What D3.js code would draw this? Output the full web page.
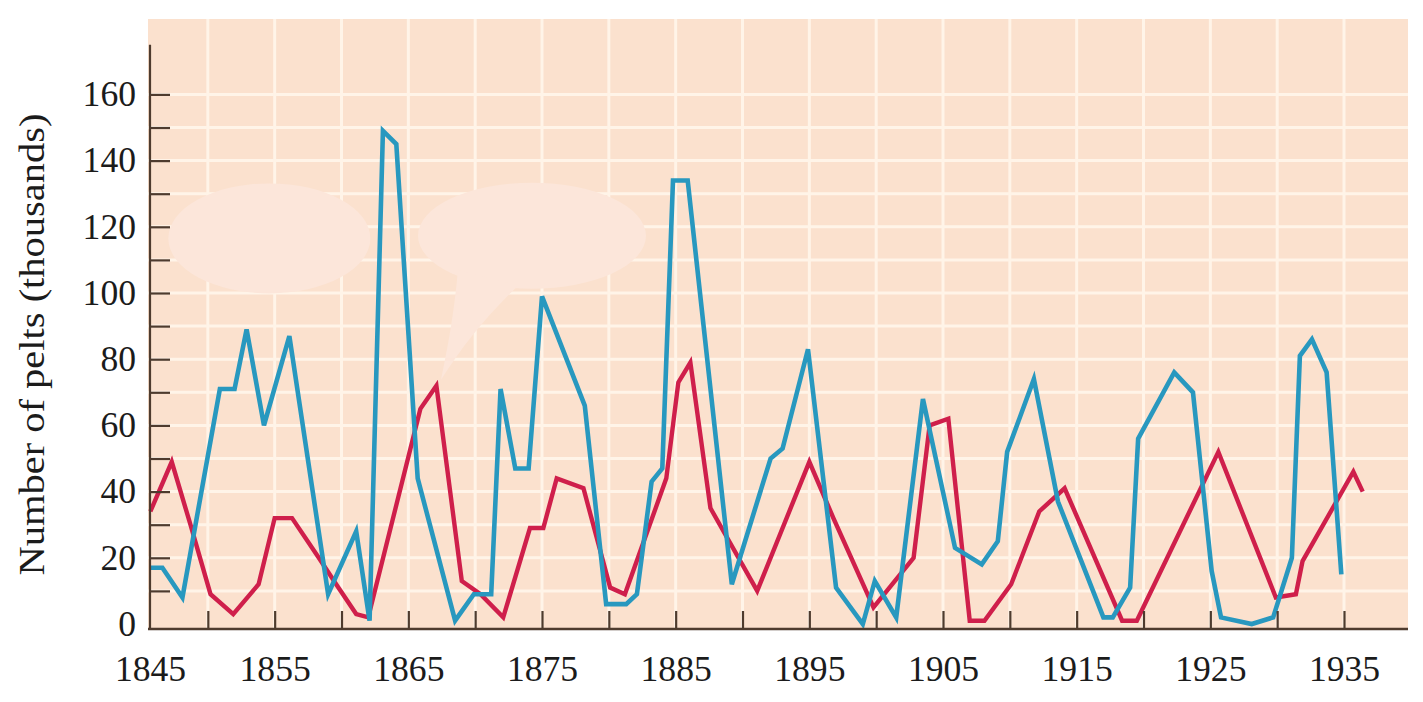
<!DOCTYPE html>
<html>
<head>
<meta charset="utf-8">
<script src="https://cdn.jsdelivr.net/npm/d3@7"></script>
<style>
  html, body { margin: 0; padding: 0; background: #fff; }
  svg { display: block; }
  text { font-family: "Liberation Serif", "DejaVu Serif", serif; fill: #1b1b1b; }
</style>
</head>
<body>
<svg id="chart" width="1423" height="702"></svg>
<script>
// snowshoe hare (blue) and lynx (red) pelts, thousands
const hareYears = [1845.7, 1846.6, 1848.1, 1850.9, 1852.0, 1852.9, 1854.2, 1856.1, 1859.0, 1861.1,
  1862.1, 1863.1, 1864.1, 1865.7, 1868.5, 1869.9, 1871.2, 1871.9, 1873.0, 1874.0,
  1875.0, 1878.2, 1879.8, 1881.3, 1882.1, 1883.2, 1884.0, 1884.8, 1885.9, 1889.2,
  1892.1, 1893.0, 1894.9, 1897.0, 1899.0, 1899.9, 1901.5, 1903.5, 1905.9, 1907.9,
  1909.1, 1909.8, 1911.8, 1913.6, 1917.0, 1917.7, 1919.0, 1919.6, 1922.3, 1923.7,
  1925.1, 1925.8, 1928.1, 1929.7, 1931.1, 1931.7, 1932.6, 1933.7, 1934.8];
const hareValues = [17, 17, 8, 71, 71, 89, 60, 87, 9, 28,
  1, 149, 145, 44, 1, 9, 9, 71, 47, 47,
  99, 66, 6, 6, 9, 43, 47, 134, 134, 12,
  50, 53, 83, 11, 0, 13, 2, 68, 23, 18,
  25, 52, 74, 37, 2, 2, 11, 56, 76, 70,
  16, 2, 0, 2, 20, 81, 86, 76, 15];

const lynxYears = [1845.7, 1847.3, 1848.7, 1850.2, 1851.9, 1853.8, 1855.0, 1856.3, 1858.3, 1859.6,
  1861.1, 1862.0, 1865.9, 1867.1, 1869.0, 1870.4, 1872.1, 1874.1, 1875.1, 1876.1,
  1878.1, 1880.1, 1881.2, 1884.3, 1885.2, 1886.1, 1887.6, 1891.1, 1895.0, 1896.8,
  1899.8, 1902.8, 1904.0, 1905.4, 1907.0, 1908.1, 1910.1, 1912.2, 1914.1, 1918.4,
  1919.5, 1925.6, 1929.9, 1931.4, 1931.9, 1935.7, 1936.4];
const lynxValues = [34, 49, 30, 9, 3, 12, 32, 32, 20, 12,
  3, 2, 65, 72, 13, 9, 2, 29, 29, 44,
  41, 11, 9, 44, 73, 79, 35, 10, 49, 32,
  5, 20, 60, 62, 1, 1, 12, 34, 41, 1,
  1, 52, 8, 9, 19, 46, 40];

const yTicks = d3.range(10, 170, 10);          // minor + major ticks
const yLabels = [0, 20, 40, 60, 80, 100, 120, 140, 160];
const xTicks = d3.range(1850, 1940, 5);
const xLabels = [1845, 1855, 1865, 1875, 1885, 1895, 1905, 1915, 1925, 1935];

// blank callout balloons (label text removed in the source figure)
const balloons = [
  { year: 1854.6, value: 116.5, rx: 101, ry: 55, tail: false },
  { year: 1874.25, value: 117.3, rx: 114, ry: 53, tail: true }
];

const svg = d3.select('#chart');

const x = d3.scaleLinear().domain([1845, 1935]).range([141, 1344]);
const y = d3.scaleLinear().domain([0, 160]).range([624, 94.4]);

const panelLeft = 148, panelRight = 1408, panelTop = 19;
const axisY = y(0) + 5;
const digitW = 17.8;

// panel
svg.append('rect')
  .attr('x', panelLeft).attr('y', panelTop)
  .attr('width', panelRight - panelLeft).attr('height', axisY - panelTop)
  .attr('fill', '#fbe1ce');

// grid
const grid = svg.append('g').attr('stroke', '#fff4e8').attr('stroke-width', 3);
grid.selectAll('line.h')
  .data(yTicks)
  .join('line')
  .attr('class', 'h')
  .attr('x1', panelLeft).attr('x2', panelRight)
  .attr('y1', d => y(d)).attr('y2', d => y(d));
grid.selectAll('line.v')
  .data(xTicks)
  .join('line')
  .attr('class', 'v')
  .attr('x1', d => x(d)).attr('x2', d => x(d))
  .attr('y1', panelTop).attr('y2', axisY);

// balloons
const bl = svg.append('g').attr('fill', '#fce6da');
balloons.forEach(b => {
  const cx = x(b.year), cy = y(b.value);
  bl.append('ellipse').attr('cx', cx).attr('cy', cy).attr('rx', b.rx).attr('ry', b.ry);
  if (b.tail) {
    bl.append('path').attr('d',
      `M ${cx - 74} ${cy + 34} C ${cx - 78} ${cy + 80}, ${cx - 85} ${cy + 115}, ${cx - 91} ${cy + 144}` +
      ` C ${cx - 68} ${cy + 108}, ${cx - 45} ${cy + 80}, ${cx - 14} ${cy + 50} Z`);
  }
});

// series
const line = d3.line().x(d => x(d[0])).y(d => y(d[1]));
const hare = d3.zip(hareYears, hareValues);
const lynx = d3.zip(lynxYears, lynxValues);

svg.append('path')
  .datum(lynx)
  .attr('fill', 'none')
  .attr('stroke', '#cf1f4b')
  .attr('stroke-width', 4.4)
  .attr('stroke-linejoin', 'miter')
  .attr('d', line);

svg.append('path')
  .datum(hare)
  .attr('fill', 'none')
  .attr('stroke', '#2898bf')
  .attr('stroke-width', 4.6)
  .attr('stroke-linejoin', 'miter')
  .attr('d', line);

// y axis
const axisColor = '#4e3b2e';
const yAxis = svg.append('g')
  .attr('transform', `translate(${panelLeft + 2},0)`)
  .call(d3.axisLeft(y)
    .tickValues([0, ...yTicks])
    .tickSize(-20)
    .tickPadding(14)
    .tickFormat(d => yLabels.includes(d) ? d : ''));
yAxis.select('.domain').remove();
yAxis.selectAll('.tick line').attr('stroke', axisColor).attr('stroke-width', 2.2)
  .filter(d => d === 0).remove();
yAxis.selectAll('.tick text')
  .attr('font-size', 35).attr('fill', '#1b1b1b')
  .attr('font-family', '"Liberation Serif", serif')
  .filter(d => yLabels.includes(d))
  .attr('textLength', d => String(d).length * digitW)
  .attr('lengthAdjust', 'spacingAndGlyphs');
yAxis.append('line')
  .attr('x1', 0).attr('x2', 0)
  .attr('y1', y(175)).attr('y2', axisY + 1)
  .attr('stroke', axisColor).attr('stroke-width', 2.2);

// x axis: ticks every 5 years, labels every 10
const xAxis = svg.append('g')
  .attr('transform', `translate(0,${axisY})`)
  .call(d3.axisBottom(x).tickValues(xTicks).tickSize(-18).tickFormat(''));
xAxis.select('.domain').remove();
xAxis.selectAll('.tick line').attr('stroke', axisColor).attr('stroke-width', 2.2);
xAxis.append('line')
  .attr('x1', panelLeft).attr('x2', panelRight)
  .attr('stroke', axisColor).attr('stroke-width', 2.6);

const xLab = svg.append('g')
  .attr('transform', `translate(0,${axisY})`)
  .call(d3.axisBottom(x).tickValues(xLabels).tickSize(0).tickPadding(27).tickFormat(d3.format('d')));
xLab.select('.domain').remove();
xLab.selectAll('.tick text')
  .attr('font-size', 35).attr('fill', '#1b1b1b')
  .attr('font-family', '"Liberation Serif", serif')
  .attr('textLength', 4 * digitW)
  .attr('lengthAdjust', 'spacingAndGlyphs')
  .filter(d => d === 1845).attr('dx', 9);

// y title
svg.append('text')
  .attr('transform', `translate(44,${(112 + 577) / 2}) rotate(-90)`)
  .attr('text-anchor', 'middle')
  .attr('font-size', 35)
  .attr('textLength', 462)
  .attr('lengthAdjust', 'spacingAndGlyphs')
  .text('Number of pelts (thousands)');
</script>
</body>
</html>
